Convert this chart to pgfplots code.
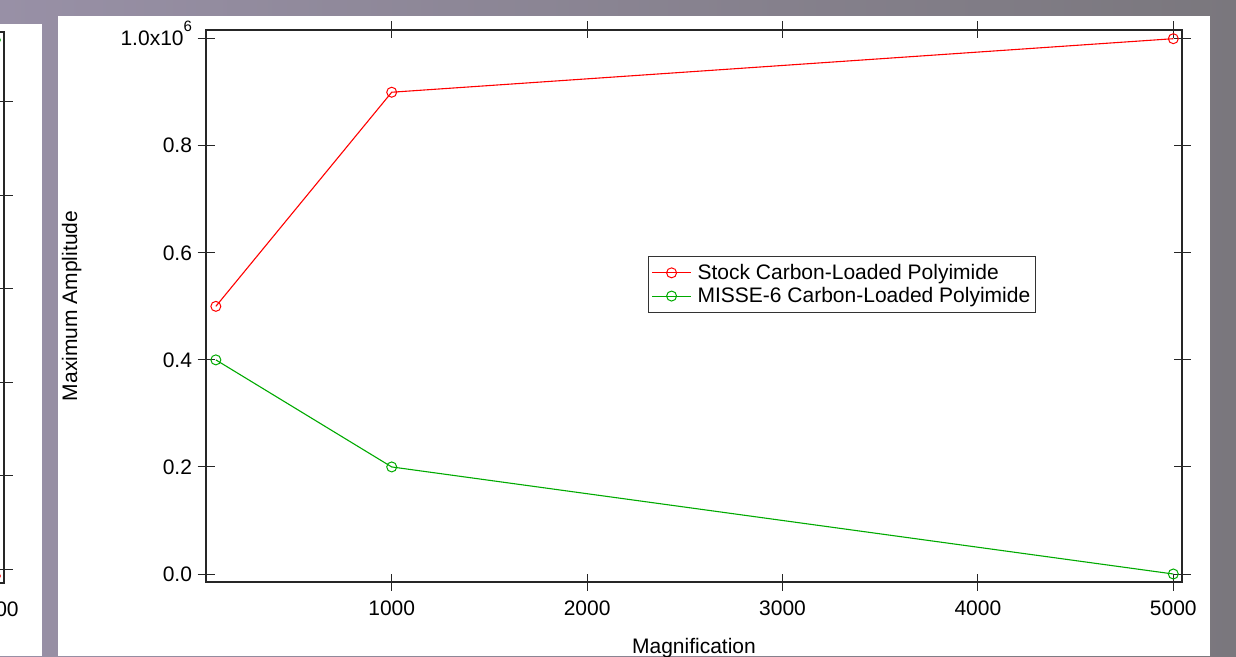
\documentclass[border=0pt]{standalone}
\usepackage{pgfplots}
\pgfplotsset{compat=1.18}
\usepackage{fontspec}
\setmainfont{Liberation Sans}
\definecolor{bgL}{RGB}{152,144,166}
\definecolor{bgR}{RGB}{122,119,125}
\definecolor{igred}{RGB}{255,0,0}
\definecolor{iggreen}{RGB}{0,170,0}
\pgfplotsset{
  igorstyle/.style={
    scale only axis,
    axis line style={line width=1.2pt, black!85},
    tick style={line width=1pt, black!85},
    major tick length=17pt,
    tick align=center,
    scaled ticks=false,
    /pgf/number format/assume math mode=true,
    /pgf/number format/1000 sep={},
    ticklabel style={font=\fontsize{21}{25}\selectfont},
    xticklabel style={yshift=-7pt},
    yticklabel style={xshift=-2pt},
  }
}
\begin{document}
\begin{tikzpicture}[x=1pt,y=1pt]
\useasboundingbox (0,0) rectangle (1236,656);
\shade[left color=bgL, right color=bgR] (0,0) rectangle (1236,656);
\fill[white] (0,0) rectangle (42,632);
\fill[white] (58,0) rectangle (1210,640);
% partial neighbouring chart on the left
\begin{scope}
\clip (0,0) rectangle (42,632);
\begin{axis}[igorstyle,
  at={(-972pt,73pt)}, anchor=south west,
  width=976pt, height=551pt,
  xmin=49.6, xmax=5044.5, ymin=0, ymax=551,
  xtick={1000,2000,3000,4000,5000},
  ytick={13.7,107.2,200.7,294.2,387.7,481.2},
  yticklabels={},
  clip=false]
\addplot[iggreen, line width=1pt, mark=o, mark size=5pt] coordinates {(5000,543)};
\addplot[igred, line width=1pt, mark=o, mark size=5pt] coordinates {(5000,7)};
\end{axis}
\end{scope}
% main chart
\begin{axis}[igorstyle,
  at={(206pt,74pt)}, anchor=south west,
  width=976pt, height=552pt,
  xmin=49.6, xmax=5044.5, ymin=-14945, ymax=1016253,
  xtick={1000,2000,3000,4000,5000},
  ytick={0,200000,400000,600000,800000,1000000},
  yticklabels={0.0,0.2,0.4,0.6,0.8,{1.0x10\smash{\raisebox{14pt}{\fontsize{15}{15}\selectfont 6}}}},
  xlabel={Magnification},
  ylabel={Maximum Amplitude},
  every axis x label/.style={at={(axis description cs:0.5,-0.1295)}, anchor=base,
    font=\fontsize{21}{25}\selectfont},
  every axis y label/.style={at={(axis description cs:-0.1375,0.5)}, rotate=90, anchor=center,
    font=\fontsize{21}{25}\selectfont},
  clip=false,
  legend style={at={(axis description cs:0.4529,0.5906)}, anchor=north west,
    draw=black!80, line width=1pt, font=\fontsize{21}{23}\selectfont,
    inner xsep=3pt, inner ysep=6pt, row sep=2.5pt, column sep=4pt},
  legend cell align=left,
  legend image code/.code={\draw[mark repeat=2,mark phase=2,#1] plot coordinates {(0pt,0pt) (19.5pt,0pt) (39pt,0pt)};},
]
\addplot[igred, line width=1.1pt, mark=o, mark size=5pt, mark options={line width=1pt}]
  coordinates {(100,500000) (1000,900000) (5000,1000000)};
\addlegendentry{Stock Carbon-Loaded Polyimide}
\addplot[iggreen, line width=1.1pt, mark=o, mark size=5pt, mark options={line width=1pt}]
  coordinates {(100,400000) (1000,200000) (5000,0)};
\addlegendentry{MISSE-6 Carbon-Loaded Polyimide}
\end{axis}
\end{tikzpicture}
\end{document}
